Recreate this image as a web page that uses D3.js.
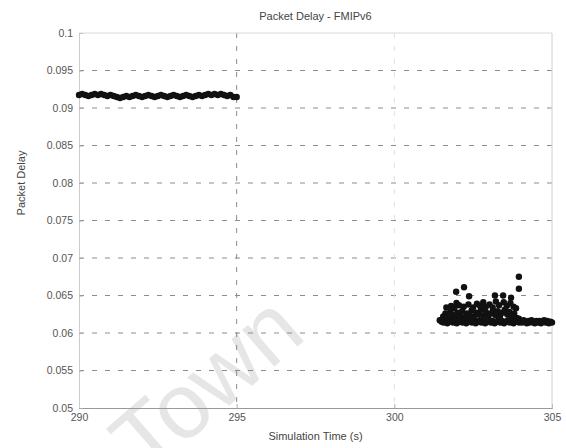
<!DOCTYPE html>
<html>
<head>
<meta charset="utf-8">
<script src="https://cdn.jsdelivr.net/npm/d3@7"></script>
<style>
    body { margin: 0; background: #fff; }
    svg text { font-family: "Liberation Sans", Arial, sans-serif; }
</style>
</head>
<body>
<svg id="chart" width="566" height="448"></svg>
<script>
// before handover: delay per packet
const earlyTimes = [290.0, 290.1, 290.2, 290.3, 290.4, 290.5, 290.6, 290.7, 290.8, 290.9,
    291.0, 291.1, 291.2, 291.3, 291.4, 291.5, 291.6, 291.7, 291.8, 291.9,
    292.0, 292.1, 292.2, 292.3, 292.4, 292.5, 292.6, 292.7, 292.8, 292.9,
    293.0, 293.1, 293.2, 293.3, 293.4, 293.5, 293.6, 293.7, 293.8, 293.9,
    294.0, 294.1, 294.2, 294.3, 294.4, 294.5, 294.6, 294.7, 294.8, 294.9, 295.0];
const earlyDelay = [0.09173, 0.09187, 0.09173, 0.09160, 0.09173, 0.09187, 0.09173, 0.09187, 0.09173, 0.09160,
    0.09173, 0.09160, 0.09147, 0.09133, 0.09147, 0.09160, 0.09147, 0.09160, 0.09173, 0.09160,
    0.09147, 0.09160, 0.09173, 0.09160, 0.09147, 0.09160, 0.09173, 0.09160, 0.09147, 0.09160,
    0.09173, 0.09160, 0.09147, 0.09160, 0.09173, 0.09160, 0.09147, 0.09160, 0.09173, 0.09160,
    0.09173, 0.09187, 0.09173, 0.09187, 0.09173, 0.09187, 0.09173, 0.09160, 0.09173, 0.09147, 0.09147];

// after handover: [time, delay]
const lateBase = [[301.44, 0.0617], [301.50, 0.0615], [301.56, 0.0614], [301.62, 0.0616], [301.68, 0.0613],
    [301.74, 0.0615], [301.80, 0.0617], [301.86, 0.0614], [301.92, 0.0616], [301.98, 0.0613],
    [302.04, 0.0615], [302.10, 0.0617], [302.16, 0.0614], [302.22, 0.0616], [302.28, 0.0613],
    [302.34, 0.0615], [302.40, 0.0617], [302.46, 0.0614], [302.52, 0.0616], [302.58, 0.0613],
    [302.64, 0.0615], [302.70, 0.0617], [302.76, 0.0614], [302.82, 0.0616], [302.88, 0.0613],
    [302.94, 0.0615], [303.00, 0.0617], [303.06, 0.0614], [303.12, 0.0616], [303.18, 0.0613],
    [303.24, 0.0615], [303.30, 0.0617], [303.36, 0.0614], [303.42, 0.0616], [303.48, 0.0613],
    [303.54, 0.0615], [303.60, 0.0617], [303.66, 0.0614], [303.72, 0.0616], [303.78, 0.0613],
    [303.84, 0.0615], [303.90, 0.0617], [303.96, 0.0614]];
const lateMid = [[301.55, 0.0622], [301.62, 0.0626], [301.70, 0.0621], [301.78, 0.0628], [301.85, 0.0624],
    [301.93, 0.0620], [302.00, 0.0627], [302.08, 0.0623], [302.15, 0.0629], [302.23, 0.0621],
    [302.30, 0.0626], [302.38, 0.0624], [302.45, 0.0630], [302.53, 0.0622], [302.60, 0.0627],
    [302.68, 0.0625], [302.75, 0.0631], [302.83, 0.0623], [302.90, 0.0628], [302.98, 0.0621],
    [303.05, 0.0626], [303.13, 0.0630], [303.20, 0.0624], [303.28, 0.0629], [303.35, 0.0622],
    [303.43, 0.0627], [303.50, 0.0631], [303.58, 0.0625], [303.65, 0.0628], [303.73, 0.0622],
    [303.80, 0.0626], [303.88, 0.0620], [303.95, 0.0619]];
const lateHigh = [[301.65, 0.0634], [301.80, 0.0636], [301.90, 0.0633], [301.97, 0.0640], [302.05, 0.0637],
    [302.20, 0.0635], [302.35, 0.0638], [302.50, 0.0634], [302.62, 0.0639], [302.72, 0.0636],
    [302.82, 0.0641], [302.90, 0.0635], [303.02, 0.0638], [303.12, 0.0634], [303.19, 0.0650],
    [303.22, 0.0642], [303.32, 0.0637], [303.45, 0.0650], [303.47, 0.0641], [303.57, 0.0636],
    [303.70, 0.0647], [303.68, 0.0640], [303.78, 0.0635], [303.86, 0.0633]];
const lateOutliers = [[301.96, 0.0655], [302.21, 0.0661], [302.37, 0.0649], [303.95, 0.0675], [303.95, 0.0659]];
const lateTail = [[304.00, 0.0616], [304.05, 0.0614], [304.10, 0.0617], [304.15, 0.0615], [304.20, 0.0613],
    [304.25, 0.0616], [304.30, 0.0614], [304.35, 0.0617], [304.40, 0.0615], [304.45, 0.0613],
    [304.50, 0.0616], [304.55, 0.0614], [304.60, 0.0616], [304.65, 0.0613], [304.70, 0.0615],
    [304.75, 0.0617], [304.80, 0.0614], [304.85, 0.0616], [304.90, 0.0613], [304.95, 0.0615], [305.00, 0.0614]];

const xTicks = [290, 295, 300, 305];
const yTicks = [0.05, 0.055, 0.06, 0.065, 0.07, 0.075, 0.08, 0.085, 0.09, 0.095, 0.1];
const yTickLabels = ["0.05", "0.055", "0.06", "0.065", "0.07", "0.075", "0.08", "0.085", "0.09", "0.095", "0.1"];

const plot = {left: 79, right: 552, top: 33, bottom: 408};

const svg = d3.select("#chart");

const x = d3.scaleLinear().domain([290, 305]).range([plot.left, plot.right]);
const y = d3.scaleLinear().domain([0.05, 0.1]).range([plot.bottom, plot.top]);

// watermark from the scan (its foot runs off the page there too)
svg.append("text")
    .attr("transform", "translate(146,478) rotate(-41)")
    .attr("font-size", 92)
    .attr("fill", "#e6e6e6")
    .text("Town");

// grid
const grid = svg.append("g").attr("class", "grid");
grid.selectAll("line.h")
    .data(yTicks.slice(1, -1))
    .join("line")
    .attr("class", "h")
    .attr("x1", plot.left).attr("x2", plot.right)
    .attr("y1", d => y(d)).attr("y2", d => y(d))
    .attr("stroke", "#8c8c8c")
    .attr("stroke-width", 1)
    .attr("stroke-dasharray", "5,8");
grid.selectAll("line.v")
    .data(xTicks.slice(1, -1))
    .join("line")
    .attr("class", "v")
    .attr("x1", d => x(d)).attr("x2", d => x(d))
    .attr("y1", plot.top).attr("y2", plot.bottom)
    .attr("stroke", (d, i) => i === 0 ? "#8a8a8a" : "#e0e0e0")
    .attr("stroke-dasharray", "5,8");

// axes box
const xAxis = d3.axisBottom(x).tickValues(xTicks).tickSize(-4).tickPadding(6);
const yAxis = d3.axisLeft(y).tickValues(yTicks).tickSize(-4).tickPadding(6)
    .tickFormat((d, i) => yTickLabels[i]);

svg.append("g")
    .attr("transform", `translate(0,${plot.bottom})`)
    .call(xAxis)
    .call(g => g.select(".domain").attr("stroke", "#999"))
    .call(g => g.selectAll(".tick line").attr("stroke", "#aaa"))
    .call(g => g.selectAll("text").attr("fill", "#555").attr("font-size", 10.5));

svg.append("g")
    .attr("transform", `translate(${plot.left},0)`)
    .call(yAxis)
    .call(g => g.select(".domain").attr("stroke", "#ccc"))
    .call(g => g.selectAll(".tick line").attr("stroke", "#aaa"))
    .call(g => g.selectAll("text").attr("fill", "#555").attr("font-size", 10.5));

svg.append("line")
    .attr("x1", plot.right).attr("x2", plot.right)
    .attr("y1", plot.top).attr("y2", plot.bottom)
    .attr("stroke", "#d0d0d0");
svg.append("line")
    .attr("x1", plot.left).attr("x2", plot.right)
    .attr("y1", plot.top).attr("y2", plot.top)
    .attr("stroke", "#d8d8d8");

// points
const points = []
    .concat(earlyTimes.map((t, i) => [t, earlyDelay[i]]))
    .concat(lateBase, lateMid, lateHigh, lateOutliers, lateTail);

svg.append("g")
    .selectAll("circle")
    .data(points)
    .join("circle")
    .attr("cx", d => x(d[0]))
    .attr("cy", d => y(d[1]))
    .attr("r", 3.2)
    .attr("fill", "#111");

// labels
svg.append("text")
    .attr("x", (plot.left + plot.right) / 2)
    .attr("y", 20)
    .attr("text-anchor", "middle")
    .attr("font-size", 11)
    .attr("fill", "#444")
    .text("Packet Delay - FMIPv6");

svg.append("text")
    .attr("x", (plot.left + plot.right) / 2)
    .attr("y", 440)
    .attr("text-anchor", "middle")
    .attr("font-size", 11)
    .attr("fill", "#444")
    .text("Simulation Time (s)");

svg.append("text")
    .attr("transform", "translate(25,183) rotate(-90)")
    .attr("text-anchor", "middle")
    .attr("font-size", 11)
    .attr("fill", "#444")
    .text("Packet Delay");
</script>
</body>
</html>
